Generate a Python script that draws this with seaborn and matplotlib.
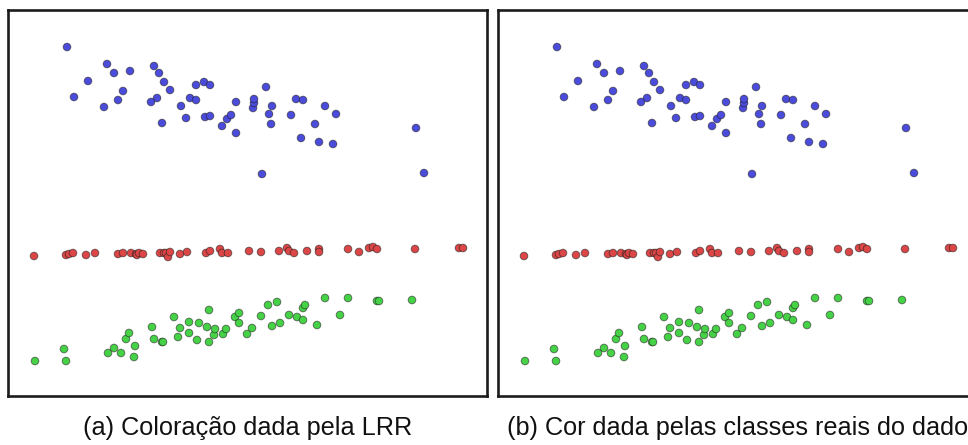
import numpy as np
import pandas as pd
import matplotlib
matplotlib.use("Agg")
import matplotlib.pyplot as plt
import seaborn as sns

# Three groups of 2-D samples (feature 1, feature 2)
blue_x = [59, 99, 106, 122, 80, 66, 96, 110, 115, 146, 151, 156, 162, 149, 143, 154, 173,
          178, 182, 188, 188, 196, 202, 197, 202, 214, 219, 223, 228, 228, 245, 246, 246,
          258, 264, 261, 263, 254, 283, 288, 295, 293, 307, 317, 328, 311, 325, 408, 416]
blue_y = [349, 332, 323, 325, 315, 299, 289, 296, 305, 330, 323, 314, 306, 298, 294, 273, 290,
          278, 298, 296, 311, 314, 311, 279, 280, 270, 277, 281, 294, 263, 288, 293, 297,
          309, 290, 282, 272, 222, 281, 297, 296, 258, 272, 290, 282, 254, 252, 268, 223]

red_x = [26, 58, 61, 65, 78, 87, 110, 115, 123, 128, 129, 131, 135, 152, 156, 158, 160, 162,
         172, 179, 198, 202, 212, 214, 220, 241, 253, 271, 279, 281, 286, 299, 311, 311, 340,
         351, 361, 365, 369, 407, 451, 455]
red_y = [140, 141, 142, 143, 141, 143, 142, 143, 143, 142, 141, 143, 142, 143, 143, 143, 139, 144,
         142, 144, 143, 145, 147, 143, 143, 145, 144, 145, 148, 145, 143, 145, 147, 144, 147,
         144, 148, 149, 147, 147, 148, 148]

green_x = [27, 56, 58, 100, 106, 113, 126, 127, 118, 121, 144, 146, 154, 155, 166, 170, 172,
           181, 181, 189, 191, 199, 201, 201, 206, 207, 215, 218, 227, 231, 231, 239, 244,
           253, 260, 264, 269, 272, 281, 289, 295, 295, 297, 309, 317, 332, 340, 369, 371, 404]
green_y = [35, 47, 35, 43, 48, 43, 39, 50, 57, 63, 69, 57, 54, 54, 79, 59, 68,
           74, 63, 56, 73, 69, 86, 54, 61, 67, 62, 67, 79, 83, 73, 62, 68,
           80, 91, 70, 94, 73, 81, 79, 76, 88, 91, 71, 98, 81, 98, 95, 95, 96]

captions = ["(a) Coloração dada pela LRR", "(b) Cor dada pelas classes reais do dado"]

palette = {"azul": "#4b4bdc", "vermelho": "#dc4646", "verde": "#46d246"}

df = pd.concat([
    pd.DataFrame({"x": blue_x, "y": blue_y, "classe": "azul"}),
    pd.DataFrame({"x": red_x, "y": red_y, "classe": "vermelho"}),
    pd.DataFrame({"x": green_x, "y": green_y, "classe": "verde"}),
], ignore_index=True)

sns.set_style("white")
plt.rcParams["font.family"] = ["Liberation Sans", "DejaVu Sans"]

W, H = 968, 445
fig = plt.figure(figsize=(W / 100, H / 100), dpi=100)

panel_w, panel_h = 479, 386
lefts = [8, 498]
bottom = H - 396

for left, cap in zip(lefts, captions):
    ax = fig.add_axes([left / W, bottom / H, panel_w / W, panel_h / H])
    sns.scatterplot(data=df, x="x", y="y", hue="classe", palette=palette,
                    s=30, edgecolor=(0.1, 0.1, 0.1, 0.55), linewidth=0.7,
                    legend=False, ax=ax)
    ax.set_xlim(0, panel_w)
    ax.set_ylim(0, panel_h)
    ax.set_xticks([])
    ax.set_yticks([])
    ax.set_xlabel("")
    ax.set_ylabel("")
    for sp in ax.spines.values():
        sp.set_visible(True)
        sp.set_linewidth(1.9)
        sp.set_color("#1c1c1c")
    # caption centred under each panel
    fig.text((left + panel_w / 2) / W, 17 / H, cap, fontsize=18.2,
             ha="center", va="center", color="#111111")

fig.savefig("out.png", dpi=100, facecolor="white")
